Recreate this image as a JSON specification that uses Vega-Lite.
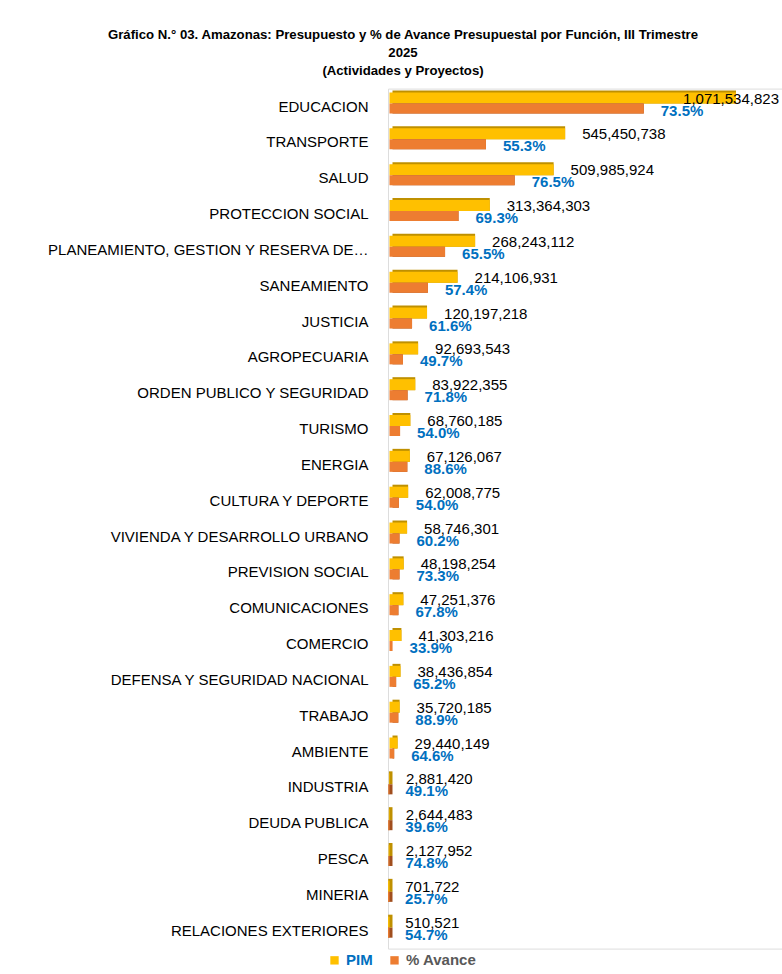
{
  "$schema": "https://vega.github.io/schema/vega-lite/v6.json",
  "autosize": "none",
  "width": 394,
  "height": 860,
  "padding": {"left": 388, "top": 88.6, "right": 0, "bottom": 25.4},
  "background": "white",
  "title": {
    "text": ["Gráfico N.° 03. Amazonas: Presupuesto y % de Avance Presupuestal por Función, III Trimestre", "2025", "(Actividades y Proyectos)"],
    "anchor": "middle",
    "frame": "group",
    "dx": -182,
    "offset": 10,
    "font": "Liberation Sans",
    "fontSize": 13.2,
    "fontWeight": "bold",
    "lineHeight": 18,
    "color": "#000000"
  },
  "data": {
    "values": [
      {"Funcion": "EDUCACION", "PIM": 1071534823, "Avance": 0.735, "Ejecutado": 787578095},
      {"Funcion": "TRANSPORTE", "PIM": 545450738, "Avance": 0.553, "Ejecutado": 301634258},
      {"Funcion": "SALUD", "PIM": 509985924, "Avance": 0.765, "Ejecutado": 390139232},
      {"Funcion": "PROTECCION SOCIAL", "PIM": 313364303, "Avance": 0.693, "Ejecutado": 217161462},
      {"Funcion": "PLANEAMIENTO, GESTION Y RESERVA DE CONTINGENCIA", "PIM": 268243112, "Avance": 0.655, "Ejecutado": 175699239},
      {"Funcion": "SANEAMIENTO", "PIM": 214106931, "Avance": 0.574, "Ejecutado": 122897379},
      {"Funcion": "JUSTICIA", "PIM": 120197218, "Avance": 0.616, "Ejecutado": 74041486},
      {"Funcion": "AGROPECUARIA", "PIM": 92693543, "Avance": 0.497, "Ejecutado": 46068691},
      {"Funcion": "ORDEN PUBLICO Y SEGURIDAD", "PIM": 83922355, "Avance": 0.718, "Ejecutado": 60256251},
      {"Funcion": "TURISMO", "PIM": 68760185, "Avance": 0.540, "Ejecutado": 37130500},
      {"Funcion": "ENERGIA", "PIM": 67126067, "Avance": 0.886, "Ejecutado": 59473695},
      {"Funcion": "CULTURA Y DEPORTE", "PIM": 62008775, "Avance": 0.540, "Ejecutado": 33484739},
      {"Funcion": "VIVIENDA Y DESARROLLO URBANO", "PIM": 58746301, "Avance": 0.602, "Ejecutado": 35365274},
      {"Funcion": "PREVISION SOCIAL", "PIM": 48198254, "Avance": 0.733, "Ejecutado": 35329320},
      {"Funcion": "COMUNICACIONES", "PIM": 47251376, "Avance": 0.678, "Ejecutado": 32036433},
      {"Funcion": "COMERCIO", "PIM": 41303216, "Avance": 0.339, "Ejecutado": 14001790},
      {"Funcion": "DEFENSA Y SEGURIDAD NACIONAL", "PIM": 38436854, "Avance": 0.652, "Ejecutado": 25060829},
      {"Funcion": "TRABAJO", "PIM": 35720185, "Avance": 0.889, "Ejecutado": 31755245},
      {"Funcion": "AMBIENTE", "PIM": 29440149, "Avance": 0.646, "Ejecutado": 19018336},
      {"Funcion": "INDUSTRIA", "PIM": 2881420, "Avance": 0.491, "Ejecutado": 1414777},
      {"Funcion": "DEUDA PUBLICA", "PIM": 2644483, "Avance": 0.396, "Ejecutado": 1047215},
      {"Funcion": "PESCA", "PIM": 2127952, "Avance": 0.748, "Ejecutado": 1591708},
      {"Funcion": "MINERIA", "PIM": 701722, "Avance": 0.257, "Ejecutado": 180343},
      {"Funcion": "RELACIONES EXTERIORES", "PIM": 510521, "Avance": 0.547, "Ejecutado": 279255}
    ]
  },
  "encoding": {
    "y": {
      "field": "Funcion",
      "type": "nominal",
      "sort": null,
      "scale": {"paddingInner": 0, "paddingOuter": 0},
      "axis": {
        "title": null,
        "domain": false,
        "ticks": false,
        "grid": false,
        "labelPadding": 20,
        "labelLimit": 323.5,
        "labelFont": "Liberation Sans",
        "labelFontSize": 15,
        "labelColor": "#000000"
      }
    }
  },
  "layer": [
    {
      "mark": {"type": "bar", "size": 13, "yOffset": -9.5, "x2Offset": 4.5, "color": "#BF9000", "cornerRadius": 0},
      "encoding": {
        "x": {"field": "PIM", "type": "quantitative", "scale": {"domain": [0, 1213200000], "nice": false, "zero": true}, "axis": null},
        "x2": {"datum": 0}
      }
    },
    {
      "mark": {"type": "bar", "size": 11, "yOffset": -8.5, "x2Offset": 1.5},
      "encoding": {
        "x": {"field": "PIM", "type": "quantitative"},
        "x2": {"datum": 0},
        "color": {
          "datum": "PIM",
          "type": "nominal",
          "scale": {"domain": ["PIM", "% Avance"], "range": ["#FFC000", "#ED7D31"]},
          "legend": {
            "title": null,
            "orient": "none",
            "direction": "horizontal",
            "legendX": -61,
            "legendY": 864,
            "symbolType": "square",
            "symbolSize": 70,
            "symbolStrokeWidth": 0,
            "labelFont": "Liberation Sans",
            "labelFontSize": 15,
            "labelFontWeight": "bold",
            "columnPadding": 14,
            "encode": {
              "labels": {"update": {"fill": {"signal": "datum.value === 'PIM' ? '#0070C0' : '#595959'"}}}
            }
          }
        }
      }
    },
    {
      "mark": {"type": "bar", "size": 10, "yOffset": 2, "x2Offset": 4.5, "color": "#A04E1E"},
      "encoding": {
        "x": {"field": "Ejecutado", "type": "quantitative"},
        "x2": {"datum": 0}
      }
    },
    {
      "mark": {"type": "bar", "size": 10, "yOffset": 2, "x2Offset": 1.5},
      "encoding": {
        "x": {"field": "Ejecutado", "type": "quantitative"},
        "x2": {"datum": 0},
        "color": {"datum": "% Avance", "type": "nominal"}
      }
    },
    {
      "mark": {
        "type": "text",
        "baseline": "middle",
        "yOffset": -8,
        "align": {"expr": "datum.PIM > 1000000000 ? 'right' : 'left'"},
        "dx": {"expr": "datum.PIM > 1000000000 ? 43 : 17"},
        "font": "Liberation Sans",
        "fontSize": 15,
        "color": "#000000"
      },
      "encoding": {
        "x": {"field": "PIM", "type": "quantitative"},
        "text": {"field": "PIM", "type": "quantitative", "format": ",d"}
      }
    },
    {
      "mark": {
        "type": "text",
        "baseline": "middle",
        "align": "left",
        "yOffset": 4,
        "dx": 17,
        "font": "Liberation Sans",
        "fontSize": 15,
        "fontWeight": "bold",
        "color": "#0070C0"
      },
      "encoding": {
        "x": {"field": "Ejecutado", "type": "quantitative"},
        "text": {"field": "Avance", "type": "quantitative", "format": ".1%"}
      }
    }
  ]
}
